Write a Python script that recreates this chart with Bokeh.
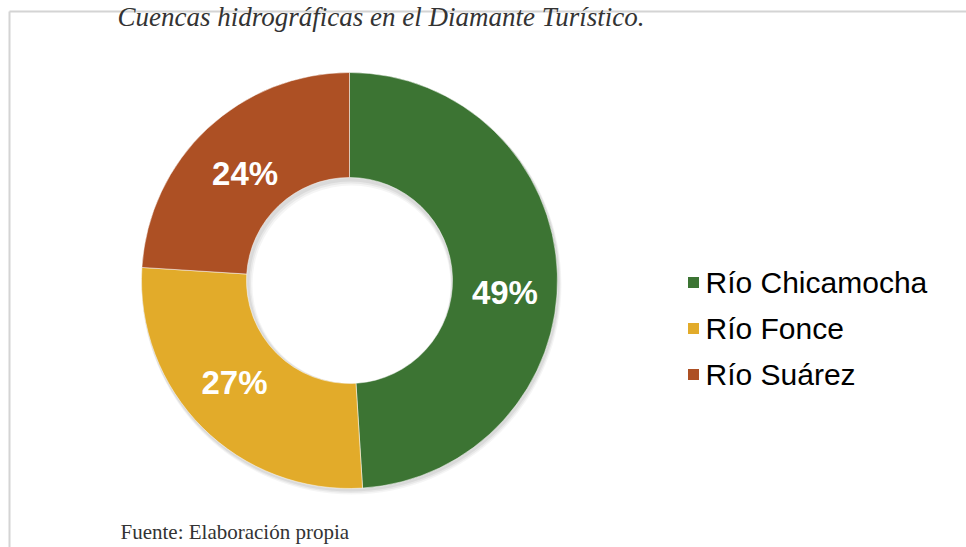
import math
from bokeh.plotting import figure
from bokeh.models import Range1d, ColumnDataSource
from bokeh.core.properties import value
from bokeh.embed import file_html
from bokeh.resources import INLINE

# ---- data ----
categories = ["Río Chicamocha", "Río Fonce", "Río Suárez"]
shares = [49, 27, 24]
labels = ["49%", "27%", "24%"]
colors = ["#3c7433", "#e2ab2a", "#ad5024"]
title_text = "Cuencas hidrográficas en el Diamante Turístico."
source_text = "Fuente: Elaboración propia"

# ---- layout / style ----
W, H = 966, 547
label_nudge = [(0, 17), (-5, -8), (2, 6)]  # screen px (right, down)

p = figure(width=W, height=H, output_backend="svg", toolbar_location=None,
           x_range=Range1d(0, W), y_range=Range1d(0, H),
           x_axis_location=None, y_axis_location=None, min_border=0,
           outline_line_color=None, background_fill_color="white")
p.grid.visible = False


def yd(yimg):
    return H - yimg


# frame lines
p.line([9, W], [yd(11), yd(11)], line_color="#d4d4d4", line_width=2)
p.line([9, 9], [yd(11), yd(H)], line_color="#d4d4d4", line_width=2)

cx, cy = 349, yd(280)
r_out, r_in = 208, 103

# soft shadow
for k, a in [(4, 0.04), (3, 0.05), (2, 0.06)]:
    p.annulus(x=[cx + k / 2], y=[cy - k], inner_radius=r_in - k, outer_radius=r_out + k / 2,
              fill_color="#000000", fill_alpha=a, line_color=None)

total = float(sum(shares))
starts, ends, lx, ly = [], [], [], []
acc = 0.0
for s, (nx, ny) in zip(shares, label_nudge):
    a0 = math.pi / 2 - 2 * math.pi * acc / total
    a1 = math.pi / 2 - 2 * math.pi * (acc + s) / total
    starts.append(a0)
    ends.append(a1)
    mid = (a0 + a1) / 2
    rm = (r_out + r_in) / 2
    lx.append(cx + rm * math.cos(mid) + nx)
    ly.append(cy + rm * math.sin(mid) - ny)
    acc += s

src = ColumnDataSource(dict(start=starts, end=ends, color=colors,
                            lx=lx, ly=ly, label=labels))
p.annular_wedge(x=cx, y=cy, inner_radius=r_in, outer_radius=r_out,
                start_angle="end", end_angle="start", fill_color="color",
                line_color="white", line_width=0.5, source=src)

p.text(x="lx", y="ly", text="label", source=src, text_color="white",
       text_font=value("Liberation Sans"), text_font_style="bold",
       text_font_size="33px", text_align="center", text_baseline="middle")

# legend
leg_y = [yd(282 + 46 * i) for i in range(len(categories))]
p.rect(x=[693] * len(categories), y=leg_y, width=11, height=11,
       fill_color=colors, line_color=None)
p.text(x=[705] * len(categories), y=leg_y, text=categories, text_color="black",
       text_font=value("Liberation Sans"), text_font_size="30px",
       text_align="left", text_baseline="middle")

# title & source
p.text(x=[117], y=[yd(16)], text=[title_text], text_color="#333333",
       text_font=value("Liberation Serif"), text_font_style="italic",
       text_font_size="27px", text_align="left", text_baseline="alphabetic")
p.text(x=[120], y=[yd(531)], text=[source_text], text_color="#333333",
       text_font=value("Liberation Serif"), text_font_size="21px",
       text_align="left", text_baseline="alphabetic")

open("out.html", "w").write(file_html(p, INLINE))
